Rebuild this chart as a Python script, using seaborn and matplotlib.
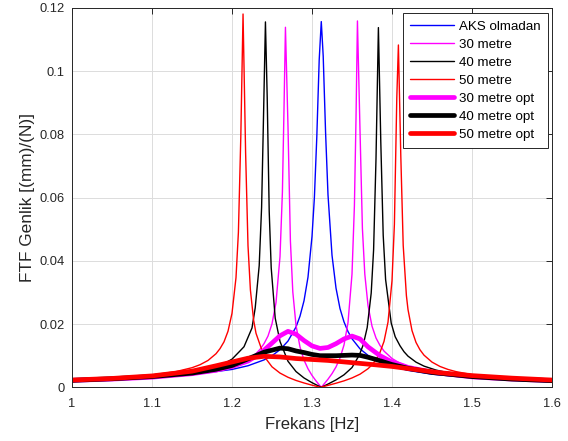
import matplotlib
matplotlib.use("Agg")
import matplotlib.pyplot as plt
import seaborn as sns
from matplotlib.ticker import FuncFormatter

# ---------------- data ----------------
f_blue = [1.00, 1.05, 1.10, 1.15, 1.20, 1.22, 1.24, 1.25, 1.26, 1.27, 1.28, 1.285, 1.29,
          1.295, 1.30, 1.303, 1.306, 1.309, 1.3116, 1.314, 1.317, 1.320, 1.325, 1.33,
          1.335, 1.34, 1.345, 1.35, 1.36, 1.37, 1.385, 1.40, 1.42, 1.45, 1.50, 1.55, 1.60]
v_blue = [.00220, .00256, .00310, .00398, .00565, .00682, .00866, .0100, .01188, .01463,
          .01908, .0225, .02736, .03486, .0477, .0601, .0792, .1036, .1157, .1048, .0804,
          .0609, .0418, .0314, .0249, .0207, .01764, .01536, .01217, .01011, .0080, .00660,
          .00535, .00414, .00299, .00232, .00188]

f_30 = [1.00, 1.05, 1.10, 1.15, 1.18, 1.20, 1.21, 1.22, 1.23, 1.235, 1.24, 1.245, 1.25,
        1.255, 1.26, 1.263, 1.265, 1.2668, 1.27, 1.273, 1.276, 1.28, 1.285, 1.29, 1.295,
        1.30, 1.305, 1.31, 1.3116, 1.315, 1.32, 1.325, 1.33, 1.335, 1.34, 1.345, 1.35,
        1.353, 1.355, 1.3568, 1.36, 1.363, 1.366, 1.37, 1.375, 1.38, 1.385, 1.39, 1.40,
        1.41, 1.42, 1.43, 1.44, 1.47, 1.50, 1.55, 1.60]
v_30 = [.00223, .00262, .00322, .00427, .00539, .00663, .00754, .00879, .01066, .0120,
        .01380, .01622, .02007, .0268, .0413, .0617, .0880, .1139, .0824, .0463, .0302,
        .0196, .01274, .00862, .00586, .00376, .00203, .00048, 0.0, .00102, .00257, .00432,
        .00644, .00927, .01338, .02047, .0358, .0574, .0849, .1159, .0814, .0503, .0358,
        .0259, .01935, .0156, .01324, .01146, .00912, .00762, .00657, .00578, .00518,
        .00395, .00320, .00242, .00194]

f_40 = [1.00, 1.05, 1.10, 1.15, 1.165, 1.18, 1.19, 1.20, 1.21, 1.215, 1.22, 1.225, 1.229,
        1.234, 1.237, 1.239, 1.2418, 1.244, 1.2465, 1.249, 1.254, 1.26, 1.27, 1.28, 1.29,
        1.30, 1.31, 1.3116, 1.315, 1.32, 1.33, 1.34, 1.35, 1.359, 1.364, 1.369, 1.374,
        1.377, 1.380, 1.383, 1.386, 1.389, 1.392, 1.399, 1.404, 1.41, 1.415, 1.42, 1.43,
        1.44, 1.455, 1.47, 1.485, 1.50, 1.55, 1.60]
v_40 = [.00229, .00272, .00342, .00477, .00549, .00651, .00749, .00890, .0115, .01283,
        .0158, .01877, .0251, .0385, .0569, .0808, .1156, .0918, .0557, .0378, .0219, .0145,
        .00823, .00499, .00296, .00146, .00019, 0.0, .00041, .00102, .00234, .00395, .00624,
        .01013, .01341, .0189, .0298, .0435, .0723, .1138, .0775, .0481, .0341, .02034,
        .01599, .01314, .01126, .00986, .00796, .0067, .00545, .00462, .00402, .00356,
        .00259, .00203]

f_50 = [1.00, 1.05, 1.10, 1.13, 1.15, 1.16, 1.17, 1.18, 1.185, 1.19, 1.195, 1.20, 1.205,
        1.208, 1.211, 1.2138, 1.217, 1.22, 1.223, 1.227, 1.23, 1.24, 1.25, 1.26, 1.27,
        1.28, 1.29, 1.30, 1.305, 1.3104, 1.315, 1.32, 1.33, 1.34, 1.35, 1.36, 1.37, 1.375,
        1.38, 1.385, 1.39, 1.395, 1.40, 1.403, 1.406, 1.408, 1.411, 1.414, 1.418, 1.42,
        1.425, 1.43, 1.435, 1.44, 1.45, 1.46, 1.47, 1.48, 1.50, 1.52, 1.55, 1.575, 1.60]
v_50 = [.00241, .00295, .00390, .00497, .0062, .00714, .00849, .01062, .01223, .01438,
        .01773, .0234, .0347, .049, .0792, .1181, .0743, .0448, .0308, .0213, .0171, .00986,
        .00648, .0045, .00317, .00217, .00137, .00067, .00035, 0.0, .00029, .00061, .00129,
        .00204, .00296, .00415, .00588, .00711, .00874, .01106, .01452, .0206, .0337, .0516,
        .0916, .1083, .0732, .0449, .029, .0246, .01795, .0142, .01186, .01017, .00797,
        .00659, .00565, .00496, .00401, .00338, .00275, .00238, .0021]

f_30opt = [1.00, 1.05, 1.10, 1.15, 1.18, 1.20, 1.22, 1.235, 1.25, 1.26, 1.27, 1.28, 1.29,
           1.30, 1.31, 1.32, 1.33, 1.34, 1.35, 1.36, 1.37, 1.385, 1.40, 1.41, 1.42, 1.45,
           1.50, 1.55, 1.60]
v_30opt = [.0022, .0026, .0032, .0043, .0054, .0066, .0083, .0106, .0140, .0163, .0177,
           .0168, .0148, .0131, .0123, .0126, .0138, .0153, .0162, .0153, .0128, .0100,
           .0080, .0072, .0063, .0048, .0033, .0026, .0021]

f_40opt = [1.00, 1.05, 1.10, 1.15, 1.18, 1.20, 1.22, 1.24, 1.26, 1.27, 1.28, 1.29, 1.30,
           1.31, 1.33, 1.35, 1.36, 1.37, 1.38, 1.40, 1.42, 1.45, 1.50, 1.55, 1.60]
v_40opt = [.0022, .0027, .0034, .0045, .0057, .0069, .0090, .0111, .0124, .0122, .0115,
           .0110, .0104, .0100, .0100, .0102, .0101, .0095, .0088, .0072, .0060, .0047,
           .0034, .0026, .0021]

f_50opt = [1.00, 1.05, 1.10, 1.15, 1.18, 1.20, 1.22, 1.24, 1.26, 1.28, 1.30, 1.32, 1.35,
           1.38, 1.40, 1.43, 1.46, 1.50, 1.55, 1.60]
v_50opt = [.0023, .0028, .0036, .0051, .0068, .0080, .0092, .0098, .0096, .0091, .0088,
           .0085, .0078, .0071, .0066, .0056, .0046, .0037, .0029, .0023]

labels = ["AKS olmadan", "30 metre", "40 metre", "50 metre",
          "30 metre opt", "40 metre opt", "50 metre opt"]
xticks = [1.0, 1.1, 1.2, 1.3, 1.4, 1.5, 1.6]
yticks = [0, 0.02, 0.04, 0.06, 0.08, 0.1, 0.12]

# ---------------- styling ----------------
sns.set_theme(style="whitegrid")
plt.rcParams['font.family'] = ['Liberation Sans', 'DejaVu Sans']

fig = plt.figure(figsize=(5.68, 4.41), dpi=100)
ax = fig.add_axes([72 / 568, 1 - 387.3 / 441, 480 / 568, (387.3 - 8) / 441])
ax.set_facecolor("white")
fig.patch.set_facecolor("white")

series = [
    (f_blue, v_blue, "#0000ff", 1.0),
    (f_30, v_30, "#ff00ff", 1.0),
    (f_40, v_40, "#000000", 1.0),
    (f_50, v_50, "#ff0000", 1.0),
    (f_30opt, v_30opt, "#ff00ff", 3.4),
    (f_40opt, v_40opt, "#000000", 3.4),
    (f_50opt, v_50opt, "#ff0000", 3.4),
]
for (fx, vy, col, lw), lab in zip(series, labels):
    sns.lineplot(x=fx, y=vy, ax=ax, color=col, linewidth=lw, label=lab,
                 estimator=None, sort=False)

ax.set_xlim(1.0, 1.6)
ax.set_ylim(0, 0.12)
ax.set_xticks(xticks)
ax.set_yticks(yticks)
fmt = FuncFormatter(lambda v, p: "%g" % round(v, 4))
ax.xaxis.set_major_formatter(fmt)
ax.yaxis.set_major_formatter(fmt)

ax.grid(True, color="#dcdcdc", linewidth=0.7)
for s in ax.spines.values():
    s.set_visible(True)
    s.set_color("#262626")
    s.set_linewidth(0.7)
ax.tick_params(axis="both", which="major", direction="in", length=4, width=0.7,
               top=True, right=True, colors="#262626", labelsize=9.3,
               labelcolor="#262626")
ax.tick_params(axis="x", pad=8)
ax.tick_params(axis="y", pad=5.5)

ax.set_xlabel("Frekans [Hz]", fontsize=12, color="#262626", labelpad=5)
ax.set_ylabel("FTF Genlik [(mm)/(N)]", fontsize=12.4, color="#262626", labelpad=3)

leg = ax.legend(loc="upper right", bbox_to_anchor=(0.991, 0.986), borderaxespad=0,
                fontsize=9.6, frameon=True, fancybox=False, framealpha=1,
                edgecolor="#262626", handlelength=3.3, handletextpad=0.35,
                labelspacing=0.42, borderpad=0.55)
leg.get_frame().set_linewidth(0.7)
for t in leg.get_texts():
    t.set_color("#000000")

fig.savefig("out.png", dpi=100, facecolor="white")
